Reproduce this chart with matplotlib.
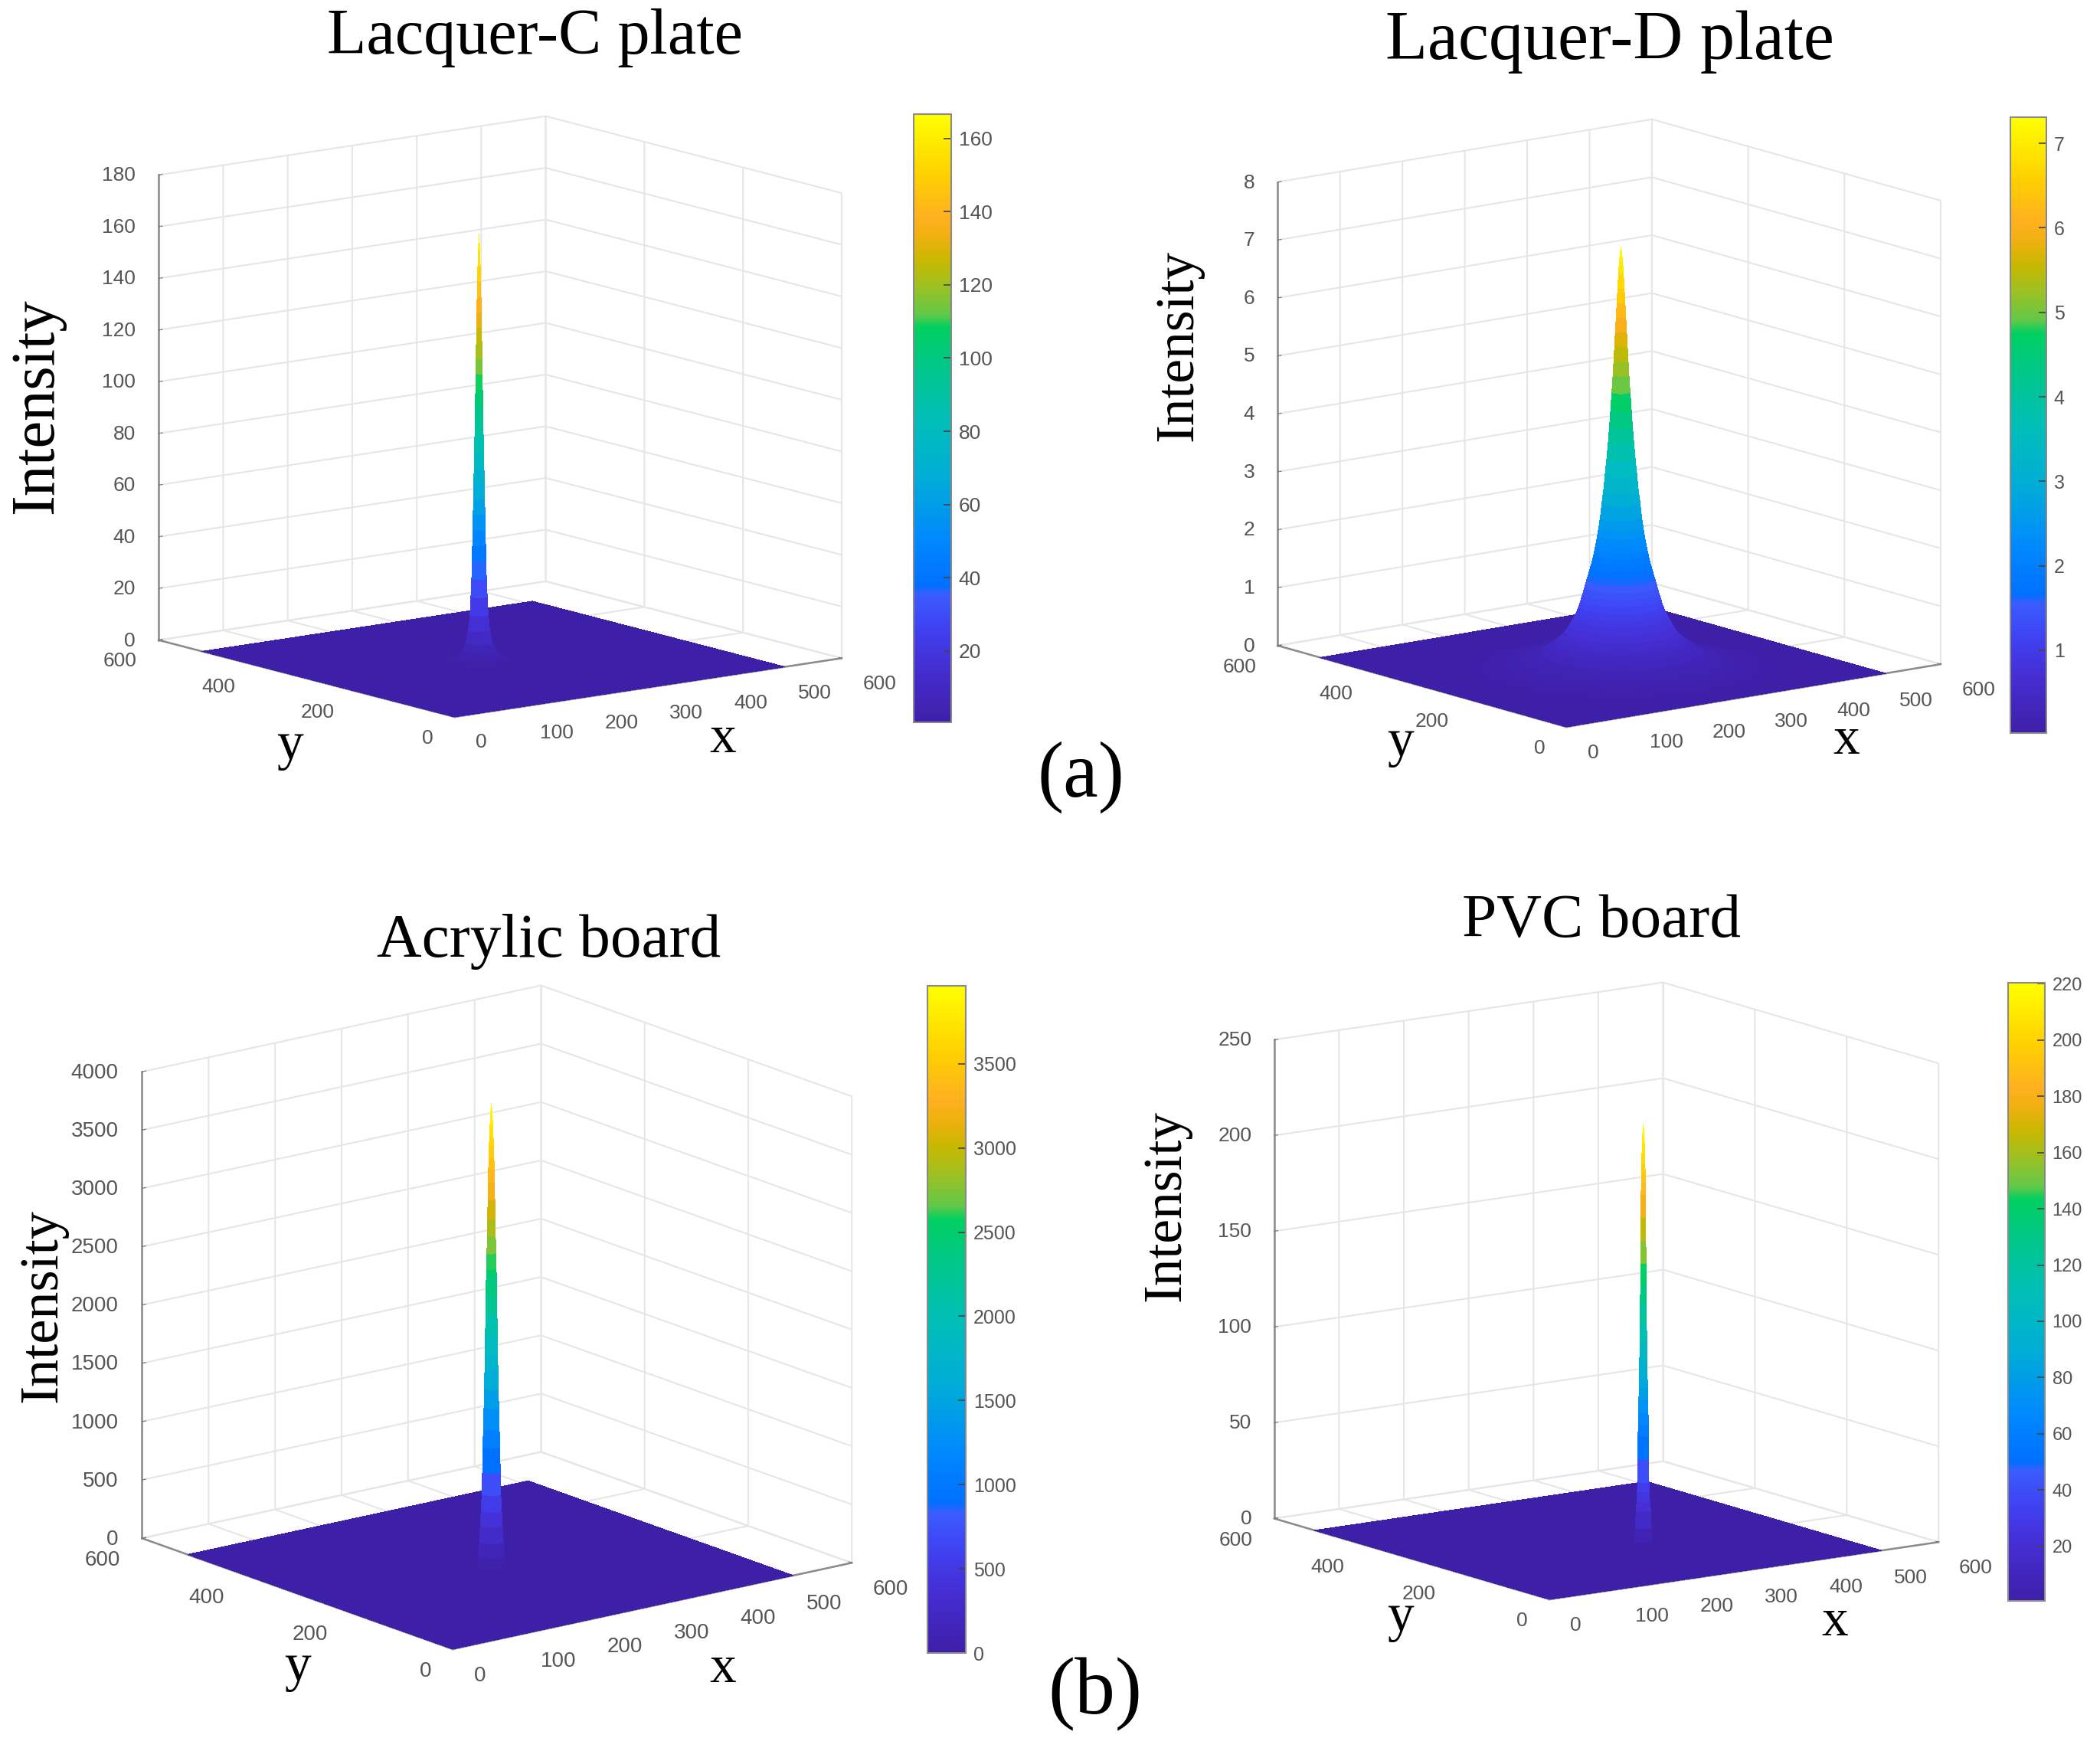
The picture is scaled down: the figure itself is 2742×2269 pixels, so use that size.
import numpy as np
import matplotlib
matplotlib.use('Agg')
import matplotlib.pyplot as plt
from matplotlib.colors import LinearSegmentedColormap, Normalize
from matplotlib.cm import ScalarMappable
from matplotlib.transforms import Affine2D
from mpl_toolkits.mplot3d import proj3d

W, H = 2742, 2269

# radial profiles of the peaks: distance from peak, intensity
r_c = [0, .8, 1.4, 1.9, 2.3, 2.7, 3, 3.3, 3.6, 3.9, 4.2, 4.5, 4.8, 5.2, 5.6, 6, 6.4, 6.8, 7.2, 7.6, 8, 8.5, 9, 10, 11, 13, 16, 20, 28, 40, 60]
z_c = [166, 160, 154, 148, 142, 136, 130, 124, 118, 112, 106, 100, 94, 88, 82, 76, 70, 64, 58, 52, 46, 40, 33, 26, 19, 13, 8, 5, 2.5, 1, .5]
r_d = [0, 1, 2, 3, 4, 5, 6, 7, 8, 9, 10, 11.5, 13, 14.5, 16, 18, 20, 22, 24, 26, 28, 29.5, 31, 32.5, 34, 36, 38, 40.5, 43, 45.5, 48, 50.5, 53, 56, 60,
       65, 70, 76, 82, 88, 94, 104, 115, 130, 145, 160, 180, 200, 220]
z_d = [7.3, 7.18, 7.05, 6.85, 6.6, 6.35, 6.1, 5.85, 5.6, 5.35, 5.1, 4.8, 4.5, 4.2, 3.95, 3.65, 3.38, 3.1, 2.9, 2.65, 2.47, 2.34, 2.22, 2.12, 2.02, 1.91, 1.8, 1.68, 1.57, 1.45, 1.33, 1.22, 1.11, 1.0, .9,
       .78, .66, .57, .5, .44, .39, .3, .22, .16, .11, .08, .05, .03, .01]
r_a = [0, .9, 1.5, 2, 2.5, 3, 3.3, 3.6, 4, 4.4, 4.8, 5.2, 5.6, 5.9, 6.3, 6.6, 7, 7.4, 7.7, 8.2, 8.7, 9.3, 10, 10.5, 11, 12, 13, 14, 15, 16.5, 19]
z_a = [3950, 3860, 3770, 3680, 3590, 3490, 3390, 3280, 3130, 2970, 2820, 2670, 2540, 2480, 2300, 2160, 1980, 1810, 1680, 1510, 1350, 1170, 1013, 800, 610, 470, 345, 200, 77, 30, 5]
r_p = [0, .8, 1.3, 1.7, 2, 2.3, 2.5, 2.7, 2.9, 3.1, 3.3, 3.5, 3.7, 4, 4.3, 4.6, 5, 5.3, 5.6, 6, 6.3, 6.6, 6.8, 7, 7.5, 8, 9, 10, 11, 13]
z_p = [220, 215, 210, 205, 200, 195, 190, 184, 172, 160, 148, 137, 127, 117, 107, 98, 89, 83, 77, 70, 64, 58, 46, 34, 29, 24, 19, 10, 3, 1]

titles = ['Lacquer-C plate', 'Lacquer-D plate', 'Acrylic board', 'PVC board']
peak_x = [226, 258, 259, 282]
peak_y = [246, 221, 258, 194]
profiles_r = [r_c, r_d, r_a, r_p]
profiles_z = [z_c, z_d, z_a, z_p]

x_ticks = [0, 100, 200, 300, 400, 500, 600]
y_ticks = [0, 200, 400, 600]
z_ticks = [list(range(0, 181, 20)), list(range(0, 9)), list(range(0, 4001, 500)), list(range(0, 251, 50))]
cbar_ticks = [list(range(20, 161, 20)), list(range(1, 8)), list(range(0, 3501, 500)), list(range(20, 221, 20))]
cbar_lims = [(.55, 166.6), (.02, 7.31), (0, 3963), (.55, 220.4)]
z_tops = [180, 8, 4000, 250]
surface_end = 512

colors_f = [0, .1, .15, .21, .225, .3, .4, .5, .6, .65, .67, .72, .76, .8, .83, .9, 1]
colors_c = ['#3e1fa8', '#4530d8', '#4040f0', '#3a5cff', '#0070ff', '#0088ff', '#00acd8', '#00bfb8', '#00c880',
            '#00d060', '#60c848', '#a0c020', '#c8b800', '#f0b010', '#ffb020', '#ffd000', '#ffff00']
parula = LinearSegmentedColormap.from_list('ref', list(zip(colors_f, colors_c)), N=512)

# layout of each panel, in pixels of the full picture
views = [(-127.4, 11.45), (-127.65, 12.55), (-127.9, 16.13), (-125.3, 12.0)]
boxes = [(636.2, 619.6), (617.2, 620.0), (660.4, 634.0), (622.3, 639.0)]
fronts = [(593.6, 936), (2045.3, 949), (591.1, 2153), (2023.3, 2088)]
cbar_boxes = [(1193, 149, 49, 794), (2625, 153, 47, 804), (1211, 1287, 50, 871), (2622, 1283, 48, 807)]
title_pos = [(698, 49, 60.7), (2102, 55, 64.9), (717, 1229, 58.5), (2091, 1203, 58.6)]
int_pos = [(49, 530, 58), (1539, 451, 51.4), (56, 1705, 52), (1523, 1574, 51.4)]
ylab_pos = [(379, 974), (1829, 970), (388, 2177), (1829, 2112)]
xlab_pos = [(944, 965), (2411, 967), (944, 2179), (2396, 2118)]
tick_size = [19, 19, 20, 19]
cbar_size = [19, 18, 18, 17]

SERIF = 'Liberation Serif'
SANS = 'Liberation Sans'
GREY = '#555555'
plt.rcParams['font.family'] = SANS

fig = plt.figure(figsize=(W / 100, H / 100), dpi=100)


def fit_axes(ax, front, length):
    # grow and shift the square 3d axes until the floor lands on the reference
    size = 1000.0
    for i in range(2):
        ax.set_position([0, 0, size / W, size / H])
        ax.apply_aspect()
        m = ax.get_proj()
        sx, sy, _ = proj3d.proj_transform(600, 0, 0, m)
        ox, oy, _ = proj3d.proj_transform(0, 0, 0, m)
        p1 = ax.transData.transform((sx, sy))
        p0 = ax.transData.transform((ox, oy))
        if i == 0:
            size *= length / np.hypot(*(p1 - p0))
    m_x = front[0] - p0[0]
    m_y = (H - front[1]) - p0[1]
    return [m_x / W, m_y / H, size / W, size / H]


def shift_labels(ax, axis, ha, dx, dy):
    # matlab aligns its 3d tick labels differently, nudge them by some pixels
    # Axis3D.get_major_ticks resets the transform on every call, so block that
    for tick in axis.get_major_ticks():
        tick.label1.set_ha(ha)
        tick.label1.set_transform(ax.transData + Affine2D().translate(dx, dy))
        tick.label1.set_transform = lambda t: None


for i in range(4):
    ax = fig.add_axes([0, 0, .5, .5], projection='3d', proj_type='ortho')
    ax.computed_zorder = False
    ax.patch.set_visible(False)
    ax.view_init(elev=views[i][1], azim=views[i][0])
    ax.set_box_aspect((boxes[i][0], boxes[i][0], boxes[i][1]))
    ax.set_xlim(0, 600)
    ax.set_ylim(0, 600)
    ax.set_zlim(0, z_tops[i])

    norm = Normalize(*cbar_lims[i])

    floor_x, floor_y = np.meshgrid([0, surface_end], [0, surface_end])
    ax.plot_surface(floor_x, floor_y, np.zeros((2, 2)), color=parula(0.0), shade=False,
                    linewidth=0, antialiased=False, zorder=2)

    radius = np.array(profiles_r[i], dtype=float)
    height = np.array(profiles_z[i], dtype=float)
    theta = np.radians(np.arange(0, 361, 10))
    R, T = np.meshgrid(radius, theta)
    Z = np.tile(height, (len(theta), 1))
    ax.plot_surface(peak_x[i] + R * np.cos(T), peak_y[i] + R * np.sin(T), Z, cmap=parula, norm=norm,
                    rstride=1, cstride=1, shade=False, linewidth=0,
                    antialiased=False, zorder=3)

    ax.set_xticks(x_ticks)
    ax.set_yticks(y_ticks)
    ax.set_zticks(z_ticks[i])
    ax.tick_params(axis='both', labelsize=tick_size[i], labelcolor=GREY, color='#777777', pad=4)
    ax.tick_params(axis='z', labelsize=tick_size[i], labelcolor=GREY, color='#777777', pad=10)
    shift_labels(ax, ax.xaxis, 'left', 16, 0)
    shift_labels(ax, ax.yaxis, 'right', -13, 5)
    shift_labels(ax, ax.zaxis, 'right', 10, 10)

    for axis in (ax.xaxis, ax.yaxis, ax.zaxis):
        axis.set_pane_color((1, 1, 1, 0))
        axis.pane.set_edgecolor('#e2e2e2')
        axis.line.set_color('#8a8a8a')
        axis.line.set_linewidth(1.8)
        axis._axinfo['grid'].update(color='#e6e6e6', linewidth=1.5)
        axis._axinfo['tick'].update(inward_factor=0.0, outward_factor=0.12)

    az, el = np.radians(views[i])
    edge = boxes[i][0] * np.hypot(np.sin(az), np.cos(az) * np.sin(el))
    ax.set_position(fit_axes(ax, fronts[i], edge))

    cx, cy, cw, ch = cbar_boxes[i]
    cax = fig.add_axes([cx / W, 1 - (cy + ch) / H, cw / W, ch / H])
    cb = fig.colorbar(ScalarMappable(norm=norm, cmap=parula), cax=cax, ticks=cbar_ticks[i])
    cb.outline.set_edgecolor('#8a8a8a')
    cb.outline.set_linewidth(1.5)
    cb.ax.tick_params(direction='in', length=7, width=1.2, color='#444444', labelsize=cbar_size[i], labelcolor=GREY, pad=7)

    tx, ty, ts = title_pos[i]
    fig.text(tx / W, 1 - ty / H, titles[i], family=SERIF, fontsize=ts, ha='center', va='center', color='black')
    tx, ty, ts = int_pos[i]
    fig.text(tx / W, 1 - ty / H, 'Intensity', family=SERIF, fontsize=ts, rotation=90, ha='center', va='center', color='black')
    fig.text(ylab_pos[i][0] / W, 1 - ylab_pos[i][1] / H, 'y', family=SERIF, fontsize=50, ha='center', va='center', color='black')
    fig.text(xlab_pos[i][0] / W, 1 - xlab_pos[i][1] / H, 'x', family=SERIF, fontsize=50, ha='center', va='center', color='black')

fig.text(1411 / W, 1 - 1015 / H, '(a)', family=SERIF, fontsize=74, ha='center', va='center', color='black')
fig.text(1430 / W, 1 - 2212 / H, '(b)', family=SERIF, fontsize=76, ha='center', va='center', color='black')

fig.savefig('out.png', dpi=100, facecolor='white')
